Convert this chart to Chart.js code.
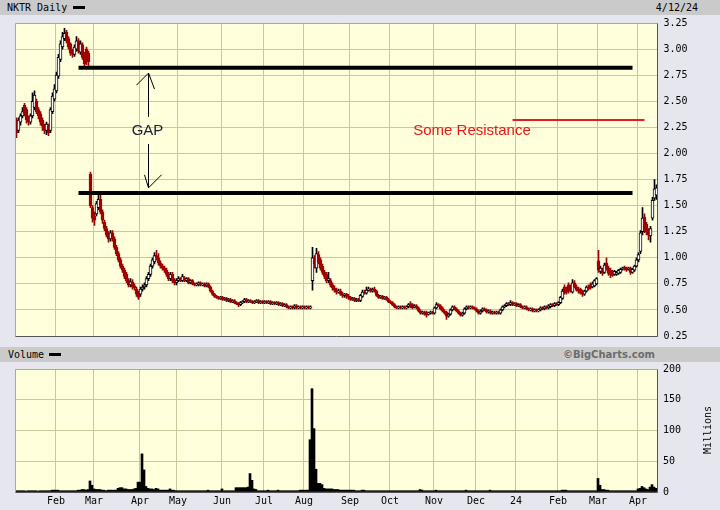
<!DOCTYPE html>
<html>
<head>
<meta charset="utf-8">
<script src="https://cdn.jsdelivr.net/npm/chart.js@4.4.1/dist/chart.umd.min.js"></script>
<style>
  body { margin: 0; width: 720px; height: 510px; background: #e6e6ee; position: relative; overflow: hidden;
         font-family: 'DejaVu Sans Mono', monospace; font-size: 10px; color: #000; }
  .hdr { position: absolute; left: 0; width: 720px; height: 15px; background: #cacaca; }
  .hdr span { position: absolute; top: 1px; line-height: 13px; }
  .dash { position: absolute; width: 12px; height: 3px; background: #000; top: 6px; }
  #priceBox { position: absolute; left: 0; top: 15px; }
  #volBox { position: absolute; left: 0; top: 362px; }
  #millions { position: absolute; left: 680px; top: 424px; width: 56px; text-align: center;
              transform: rotate(-90deg); line-height: 12px; }
</style>
</head>
<body>
<div class="hdr" style="top:0">
  <span style="left:7px">NKTR Daily</span><div class="dash" style="left:73px"></div>
  <span style="right:22px">4/12/24</span>
</div>
<div class="hdr" style="top:347px">
  <span style="left:8px">Volume</span><div class="dash" style="left:49px"></div>
  <span style="right:65px; font-family:'DejaVu Sans'; font-weight:bold; color:#6c6c6c">©BigCharts.com</span>
</div>
<div id="priceBox"><canvas id="priceChart" width="720" height="329"></canvas></div>
<div id="volBox"><canvas id="volChart" width="720" height="148"></canvas></div>
<div id="millions">Millions</div>
<script>
// trading days Jan 3 2023 .. Apr 12 2024, one row per month
const opens = [
  2.30,2.22,2.30,2.36,2.46,2.42,2.34,2.30,2.36,2.44,2.50,2.42,2.38,2.32,2.26,2.22,2.26,2.22,2.40,2.52, // Jan
  2.60,2.74,2.90,3.02,3.10,3.16,3.10,3.05,2.98,2.95,3.00,3.08,2.97,3.04,2.95,3.00,2.96,1.80,1.48, // Feb
  1.40,1.42,1.48,1.56,1.44,1.34,1.28,1.22,1.18,1.24,1.18,1.10,1.04,0.98,0.92,0.88,0.84,0.78,0.74,0.77,0.73,0.70,0.66, // Mar
  0.65,0.70,0.72,0.74,0.80,0.84,0.92,0.96,1.02,1.00,0.95,0.92,0.90,0.88,0.84,0.80,0.84,0.78,0.76, // Apr
  0.78,0.80,0.78,0.80,0.78,0.80,0.76,0.78,0.75,0.74,0.74,0.76,0.74,0.75,0.73,0.75,0.72,0.68,0.65,0.63,0.62,0.61, // May
  0.62,0.60,0.61,0.59,0.60,0.58,0.59,0.57,0.56,0.55,0.57,0.58,0.60,0.58,0.59,0.58,0.57,0.58,0.59,0.57,0.58, // Jun
  0.57,0.58,0.57,0.58,0.56,0.57,0.56,0.57,0.55,0.56,0.54,0.55,0.53,0.52,0.53,0.52,0.54,0.52,0.53,0.52, // Jul
  0.53,0.52,0.53,0.52,0.78,0.98,0.90,1.03,0.98,0.92,0.86,0.84,0.78,0.78,0.74,0.71,0.69,0.67,0.68,0.65,0.64,0.65,0.63, // Aug
  0.62,0.60,0.61,0.59,0.60,0.59,0.63,0.67,0.66,0.69,0.70,0.68,0.70,0.68,0.64,0.62,0.63,0.61,0.62,0.60, // Sep
  0.58,0.57,0.55,0.53,0.52,0.53,0.52,0.53,0.52,0.53,0.56,0.55,0.53,0.54,0.52,0.49,0.47,0.48,0.48,0.46,0.47,0.48, // Oct
  0.47,0.52,0.55,0.54,0.52,0.49,0.48,0.44,0.46,0.50,0.53,0.51,0.49,0.47,0.45,0.47,0.51,0.53,0.52,0.53,0.52, // Nov
  0.51,0.49,0.47,0.49,0.51,0.50,0.48,0.49,0.47,0.48,0.47,0.48,0.47,0.50,0.53,0.54,0.56,0.55,0.57,0.55, // Dec
  0.56,0.54,0.55,0.53,0.52,0.53,0.51,0.50,0.51,0.49,0.50,0.49,0.50,0.52,0.51,0.53,0.52,0.53,0.55,0.54,0.56, // Jan 24
  0.55,0.57,0.61,0.72,0.70,0.74,0.72,0.67,0.76,0.72,0.70,0.70,0.68,0.65,0.68,0.72,0.74,0.72,0.73,0.75, // Feb
  0.97,0.87,0.88,0.86,0.95,0.90,0.88,0.86,0.84,0.84,0.85,0.86,0.89,0.91,0.90,0.89,0.90,0.86,0.88,0.92, // Mar
  0.98,1.06,1.25,1.39,1.32,1.26,1.21,1.38,1.57,1.60 // Apr
];
const highs = [
  2.34,2.34,2.38,2.44,2.48,2.44,2.36,2.38,2.58,2.60,2.52,2.44,2.40,2.34,2.28,2.30,2.28,2.44,2.58,2.66,
  2.78,2.95,3.08,3.16,3.20,3.18,3.12,3.06,3.00,3.04,3.12,3.10,3.08,3.06,2.97,3.02,2.98,1.82,1.50,
  1.44,1.54,1.60,1.60,1.46,1.36,1.30,1.25,1.26,1.26,1.20,1.12,1.06,1.00,0.94,0.90,0.86,0.80,0.80,0.79,0.75,0.72,0.68,
  0.72,0.74,0.76,0.82,0.86,0.94,1.00,1.05,1.07,1.04,0.97,0.94,0.92,0.90,0.86,0.86,0.86,0.80,0.80,
  0.82,0.81,0.84,0.82,0.81,0.81,0.79,0.79,0.76,0.76,0.77,0.77,0.76,0.76,0.76,0.76,0.73,0.69,0.66,0.64,0.63,0.63,
  0.63,0.62,0.62,0.61,0.61,0.60,0.60,0.58,0.57,0.58,0.59,0.61,0.61,0.60,0.60,0.59,0.59,0.60,0.60,0.59,0.59,
  0.59,0.59,0.59,0.59,0.58,0.58,0.58,0.58,0.57,0.57,0.56,0.56,0.54,0.54,0.54,0.55,0.55,0.54,0.54,0.54,
  0.54,0.54,0.54,0.54,1.10,1.02,1.09,1.06,1.00,0.94,0.88,0.86,0.86,0.80,0.76,0.73,0.71,0.70,0.70,0.67,0.66,0.66,0.65,
  0.63,0.62,0.62,0.61,0.61,0.65,0.69,0.69,0.72,0.72,0.71,0.71,0.72,0.69,0.65,0.64,0.64,0.63,0.63,0.61,
  0.59,0.58,0.56,0.54,0.54,0.54,0.54,0.54,0.54,0.56,0.58,0.56,0.55,0.55,0.53,0.50,0.49,0.49,0.49,0.48,0.49,0.49,
  0.53,0.57,0.56,0.55,0.53,0.50,0.49,0.47,0.51,0.54,0.54,0.52,0.50,0.48,0.48,0.52,0.54,0.54,0.54,0.54,0.53,
  0.52,0.50,0.50,0.52,0.52,0.51,0.50,0.50,0.49,0.49,0.49,0.49,0.51,0.54,0.55,0.57,0.57,0.59,0.58,0.57,
  0.57,0.56,0.56,0.54,0.54,0.54,0.52,0.52,0.52,0.51,0.51,0.51,0.53,0.53,0.54,0.54,0.55,0.56,0.56,0.57,0.57,
  0.58,0.63,0.70,0.74,0.72,0.76,0.74,0.79,0.78,0.74,0.72,0.71,0.69,0.69,0.73,0.74,0.76,0.77,0.79,0.81,
  1.07,0.92,0.90,0.95,1.00,0.92,0.90,0.88,0.88,0.87,0.89,0.90,0.91,0.92,0.91,0.91,0.91,0.90,0.93,1.00,
  1.05,1.26,1.48,1.42,1.34,1.28,1.30,1.58,1.75,1.70
];
const lows = [
  2.15,2.20,2.27,2.34,2.36,2.29,2.27,2.28,2.34,2.42,2.38,2.33,2.27,2.22,2.19,2.18,2.17,2.20,2.38,2.50,
  2.58,2.72,2.88,3.00,3.08,3.06,3.00,2.94,2.92,2.93,2.98,2.96,2.95,2.90,2.84,2.85,2.84,1.48,1.34,
  1.31,1.40,1.46,1.42,1.33,1.26,1.20,1.15,1.16,1.16,1.08,1.02,0.96,0.90,0.86,0.80,0.76,0.72,0.72,0.70,0.69,0.63,0.60,
  0.63,0.68,0.70,0.72,0.78,0.82,0.90,0.94,0.98,0.93,0.90,0.88,0.86,0.82,0.78,0.78,0.76,0.74,0.74,
  0.77,0.77,0.77,0.77,0.77,0.75,0.75,0.74,0.73,0.73,0.73,0.73,0.73,0.72,0.72,0.71,0.67,0.64,0.62,0.61,0.60,0.60,
  0.59,0.59,0.58,0.58,0.57,0.57,0.56,0.55,0.53,0.54,0.56,0.57,0.57,0.57,0.57,0.56,0.56,0.57,0.56,0.56,0.56,
  0.56,0.56,0.56,0.55,0.55,0.55,0.55,0.54,0.54,0.53,0.53,0.52,0.51,0.51,0.51,0.51,0.51,0.51,0.51,0.51,
  0.51,0.51,0.51,0.51,0.69,0.90,0.86,0.94,0.88,0.84,0.80,0.76,0.76,0.72,0.69,0.67,0.65,0.66,0.64,0.62,0.62,0.61,0.60,
  0.59,0.59,0.58,0.58,0.58,0.58,0.62,0.65,0.65,0.68,0.67,0.67,0.67,0.63,0.61,0.61,0.60,0.60,0.59,0.57,
  0.56,0.54,0.52,0.51,0.51,0.51,0.51,0.51,0.51,0.52,0.52,0.51,0.52,0.51,0.48,0.46,0.46,0.45,0.43,0.45,0.46,0.46,
  0.46,0.51,0.53,0.50,0.48,0.46,0.41,0.43,0.45,0.49,0.50,0.48,0.46,0.44,0.44,0.46,0.50,0.51,0.51,0.51,0.50,
  0.48,0.46,0.46,0.48,0.49,0.47,0.47,0.46,0.46,0.46,0.46,0.46,0.46,0.49,0.52,0.53,0.54,0.54,0.54,0.54,
  0.53,0.53,0.52,0.51,0.51,0.50,0.49,0.49,0.48,0.48,0.48,0.48,0.49,0.50,0.50,0.51,0.51,0.52,0.53,0.53,0.54,
  0.54,0.56,0.60,0.65,0.65,0.66,0.67,0.66,0.71,0.68,0.66,0.65,0.63,0.64,0.67,0.69,0.70,0.71,0.72,0.74,
  0.86,0.85,0.83,0.85,0.88,0.83,0.81,0.82,0.83,0.83,0.84,0.85,0.88,0.88,0.87,0.88,0.84,0.85,0.87,0.91,
  0.96,1.04,1.22,1.24,1.22,1.17,1.15,1.36,1.55,1.56
];
const closes = [
  2.20,2.32,2.36,2.40,2.38,2.32,2.30,2.36,2.50,2.56,2.40,2.36,2.30,2.26,2.22,2.28,2.20,2.42,2.55,2.62,
  2.75,2.92,3.05,3.12,3.15,3.08,3.02,2.96,2.95,3.02,3.08,2.98,3.05,2.92,2.86,2.88,2.88,1.50,1.38,
  1.36,1.52,1.56,1.44,1.36,1.28,1.22,1.18,1.24,1.18,1.10,1.04,0.98,0.92,0.88,0.82,0.78,0.74,0.77,0.72,0.71,0.65,0.62,
  0.70,0.72,0.74,0.80,0.84,0.92,0.98,1.02,1.00,0.95,0.92,0.90,0.88,0.84,0.80,0.84,0.78,0.76,0.78,
  0.80,0.78,0.82,0.78,0.80,0.76,0.78,0.75,0.74,0.75,0.76,0.74,0.75,0.73,0.75,0.72,0.68,0.65,0.63,0.62,0.61,0.62,
  0.60,0.61,0.59,0.60,0.58,0.59,0.57,0.56,0.55,0.57,0.58,0.60,0.58,0.59,0.58,0.57,0.58,0.59,0.57,0.58,0.57,
  0.58,0.57,0.58,0.56,0.57,0.56,0.57,0.55,0.56,0.54,0.55,0.53,0.52,0.53,0.52,0.54,0.52,0.53,0.52,0.53,
  0.52,0.53,0.52,0.53,1.00,0.94,1.04,0.96,0.90,0.86,0.82,0.78,0.80,0.74,0.71,0.69,0.67,0.68,0.65,0.64,0.65,0.63,0.62,
  0.60,0.61,0.59,0.60,0.59,0.64,0.67,0.66,0.69,0.70,0.68,0.70,0.68,0.64,0.62,0.63,0.61,0.62,0.60,0.58,
  0.57,0.55,0.53,0.52,0.53,0.52,0.53,0.52,0.53,0.55,0.53,0.52,0.54,0.52,0.49,0.47,0.48,0.46,0.45,0.47,0.48,0.47,
  0.52,0.55,0.54,0.51,0.49,0.47,0.44,0.46,0.50,0.53,0.51,0.49,0.47,0.45,0.47,0.51,0.53,0.52,0.53,0.52,0.51,
  0.49,0.47,0.49,0.51,0.50,0.48,0.49,0.47,0.48,0.47,0.48,0.47,0.50,0.53,0.54,0.56,0.55,0.57,0.55,0.56,
  0.54,0.55,0.53,0.52,0.53,0.51,0.50,0.51,0.49,0.50,0.49,0.50,0.52,0.51,0.53,0.52,0.54,0.55,0.54,0.56,0.55,
  0.57,0.62,0.68,0.66,0.67,0.68,0.69,0.76,0.72,0.69,0.68,0.66,0.65,0.68,0.72,0.70,0.71,0.75,0.78,0.80,
  0.88,0.90,0.85,0.93,0.90,0.85,0.84,0.83,0.87,0.86,0.88,0.89,0.90,0.89,0.88,0.90,0.86,0.89,0.92,0.98,
  1.03,1.24,1.38,1.26,1.25,1.22,1.28,1.55,1.66,1.67
];
// volume, millions of shares
const volumes = [
  2,2,2,2,2,1.5,2,2,2,2,2,1.5,2,2,2,2,2,2,3,3,
  3,3,2,2,2,2,2,2,2,2,2,3,3,4,4,3,4,18,11,
  5,4,4,4,3,3,2,3,3,3,3,3,6,7,7,5,5,4,4,4,5,6,16,
  16,62,36,9,6,5,5,4,6,5,3,3,3,3,3,5,3,3,2,
  2,2,2,2,2,2,2,2,2,2,2,2,2,2,2,3,2,2,2,2,2,2,
  5,2,2,2,2,2,2,7,7,7,7,7,7,8,30,19,5,4,2,2,2,
  2,2,3,2,2,2,2,3,2,2,2,2,2,2,2,2,2,2,3,3,
  3,3,3,85,168,103,37,14,14,12,6,5,5,5,5,4,4,4,3,3,3,3,3,
  3,3,3,2,2,2,3,3,2,2,2,2,2,2,2,2,2,2,2,2,
  2,2,2,2,2,2,2,2,2,2,2,2,2,2,2,4,3,2,2,2,2,2,
  2,3,2,2,2,2,2,2,2,2,2,2,2,2,2,2,3,2,2,2,2,
  2,2,2,2,2,2,2,3,2,2,2,2,2,2,2,2,2,2,2,2,
  2,2,2,2,2,2,2,2,2,2,2,2,2,2,2,2,2,2,2,2,2,
  2,2,3,3,3,2,2,2,2,2,2,2,2,2,2,2,2,2,2,2,
  22,11,4,4,3,3,2,2,2,2,2,2,2,2,2,2,2,2,2,2,
  5,6,9,7,5,4,8,12,8,6
];
const monthStarts = [20, 39, 62, 81, 103, 124, 144, 167, 187, 209, 230, 250, 271, 291, 311];
const monthNames = ['Feb','Mar','Apr','May','Jun','Jul','Aug','Sep','Oct','Nov','Dec','24','Feb','Mar','Apr'];

// drawn-on notes (day index, price)
const gapHigh = [{x: 31, y: 2.82}, {x: 308, y: 2.82}];
const gapLow = [{x: 31, y: 1.62}, {x: 308, y: 1.62}];
const resistance = [{x: 248, y: 2.32}, {x: 314, y: 2.32}];
const gapArrow = {x: 65.5, top: 2.77, bottom: 1.67, textTop: 2.35, textBottom: 2.09};
const gapLabel = {x: 65.5, y: 2.215, text: 'GAP'};
const resLabel = {x: 227.75, y: 2.215, text: 'Some Resistance'};

const RED = '#a00000';
const GRID = '#c8c89c';
const days = closes.map((c, i) => i);
const isUp = closes.map((c, i) => c >= opens[i]);
const tickFont = {family: 'DejaVu Sans Mono', size: 10, lineHeight: 1.2};

const plotFrame = {
    id: 'plotFrame',
    beforeDraw(chart) {
        const a = chart.chartArea, ctx = chart.ctx;
        ctx.save();
        ctx.fillStyle = '#ffffdc';
        ctx.fillRect(a.left, a.top, a.right - a.left, a.bottom - a.top);
        ctx.restore();
    },
    afterDraw(chart) {
        const a = chart.chartArea, ctx = chart.ctx;
        const l = Math.floor(a.left) + 0.5, r = Math.floor(a.right) + 0.5;
        const t = Math.floor(a.top) + 0.5, b = Math.floor(a.bottom) + 0.5;
        ctx.save();
        ctx.lineWidth = 1;
        ctx.strokeStyle = '#a8a8a8';
        ctx.beginPath(); ctx.moveTo(l, b); ctx.lineTo(l, t); ctx.lineTo(r, t); ctx.stroke();
        ctx.strokeStyle = '#555';
        ctx.beginPath(); ctx.moveTo(l, b); ctx.lineTo(r, b); ctx.lineTo(r, t); ctx.stroke();
        ctx.restore();
    }
};

const notes = {
    id: 'notes',
    afterDatasetsDraw(chart) {
        const xs = chart.scales.x, ys = chart.scales.y, ctx = chart.ctx;
        const x = Math.round(xs.getPixelForValue(gapArrow.x)) + 0.5;
        const top = ys.getPixelForValue(gapArrow.top);
        const bot = ys.getPixelForValue(gapArrow.bottom);
        ctx.save();
        ctx.strokeStyle = '#000';
        ctx.lineWidth = 1;
        ctx.beginPath();
        ctx.moveTo(x, top); ctx.lineTo(x, ys.getPixelForValue(gapArrow.textTop));
        ctx.moveTo(x, ys.getPixelForValue(gapArrow.textBottom)); ctx.lineTo(x, bot);
        ctx.moveTo(x - 12, top + 12); ctx.lineTo(x, top); ctx.lineTo(x + 6, top + 16);
        ctx.moveTo(x - 4, bot - 13); ctx.lineTo(x, bot); ctx.lineTo(x + 13, bot - 13);
        ctx.stroke();

        ctx.font = '15px "Liberation Sans", Arial, sans-serif';
        ctx.textAlign = 'center';
        ctx.textBaseline = 'middle';
        ctx.fillStyle = '#20203a';
        ctx.fillText(gapLabel.text, xs.getPixelForValue(gapLabel.x), ys.getPixelForValue(gapLabel.y));
        ctx.fillStyle = '#e81818';
        ctx.fillText(resLabel.text, xs.getPixelForValue(resLabel.x), ys.getPixelForValue(resLabel.y));
        ctx.restore();
    }
};

function monthGrid(c) {
    return monthStarts.indexOf(c.index) >= 0 ? GRID : 'rgba(0,0,0,0)';
}

// keep the plot box where the layout padding puts it
function fixRightAxis(w) {
    return s => { s.width = w; s.paddingTop = 0; s.paddingBottom = 0; };
}

let priceChart = new Chart(document.getElementById('priceChart'), {
    type: 'bar',
    data: {
        labels: days,
        datasets: [
            {type: 'line', data: gapHigh, borderColor: '#000', borderWidth: 4, pointRadius: 0, order: 0},
            {type: 'line', data: gapLow, borderColor: '#000', borderWidth: 4, pointRadius: 0, order: 0},
            {type: 'line', data: resistance, borderColor: '#e02020', borderWidth: 2, pointRadius: 0, order: 0},
            {
                data: opens.map((o, i) => [o, closes[i]]),
                backgroundColor: isUp.map(u => u ? '#ffffff' : RED),
                borderColor: isUp.map(u => u ? '#000' : RED),
                borderWidth: 1,
                borderSkipped: false,
                barThickness: 3,
                grouped: false,
                order: 1
            },
            {
                data: lows.map((l, i) => [l, highs[i]]),
                backgroundColor: isUp.map(u => u ? '#000' : RED),
                barThickness: 1,
                grouped: false,
                order: 2
            }
        ]
    },
    options: {
        responsive: false,
        animation: false,
        devicePixelRatio: 1,
        layout: {padding: {left: 15.5, top: 8, bottom: 8, right: 0}},
        plugins: {legend: {display: false}, tooltip: {enabled: false}},
        scales: {
            x: {
                ticks: {display: false, autoSkip: false},
                grid: {color: monthGrid, drawTicks: false, offset: true},
                border: {display: false},
                afterFit: s => { s.height = 0; s.paddingLeft = 0; s.paddingRight = 0; }
            },
            y: {
                position: 'right',
                min: 0.25,
                max: 3.25,
                ticks: {stepSize: 0.25, padding: 6, color: '#000', font: tickFont,
                        callback: v => v.toFixed(2)},
                grid: {color: GRID, drawTicks: false},
                border: {display: false},
                afterFit: fixRightAxis(62.5)
            }
        }
    },
    plugins: [plotFrame, notes]
});

let volChart = new Chart(document.getElementById('volChart'), {
    type: 'bar',
    data: {
        labels: days,
        datasets: [{
            data: volumes,
            backgroundColor: '#000',
            barThickness: 2
        }]
    },
    options: {
        responsive: false,
        animation: false,
        devicePixelRatio: 1,
        layout: {padding: {left: 15, top: 7, bottom: 3, right: 0}},
        plugins: {legend: {display: false}, tooltip: {enabled: false}},
        scales: {
            x: {
                ticks: {
                    autoSkip: false, maxRotation: 0, minRotation: 0, padding: 3,
                    color: '#000', font: tickFont,
                    callback: (v, i) => {
                        const k = monthStarts.indexOf(i);
                        return k < 0 ? '' : monthNames[k];
                    }
                },
                grid: {color: monthGrid, drawTicks: false, offset: true},
                border: {display: false},
                afterFit: s => { s.height = 15; s.paddingLeft = 0; s.paddingRight = 0; }
            },
            y: {
                position: 'right',
                min: 0,
                max: 200,
                ticks: {stepSize: 50, padding: 6, color: '#000', font: tickFont},
                grid: {color: GRID, drawTicks: false},
                border: {display: false},
                afterFit: fixRightAxis(63)
            }
        }
    },
    plugins: [plotFrame]
});
</script>
</body>
</html>
